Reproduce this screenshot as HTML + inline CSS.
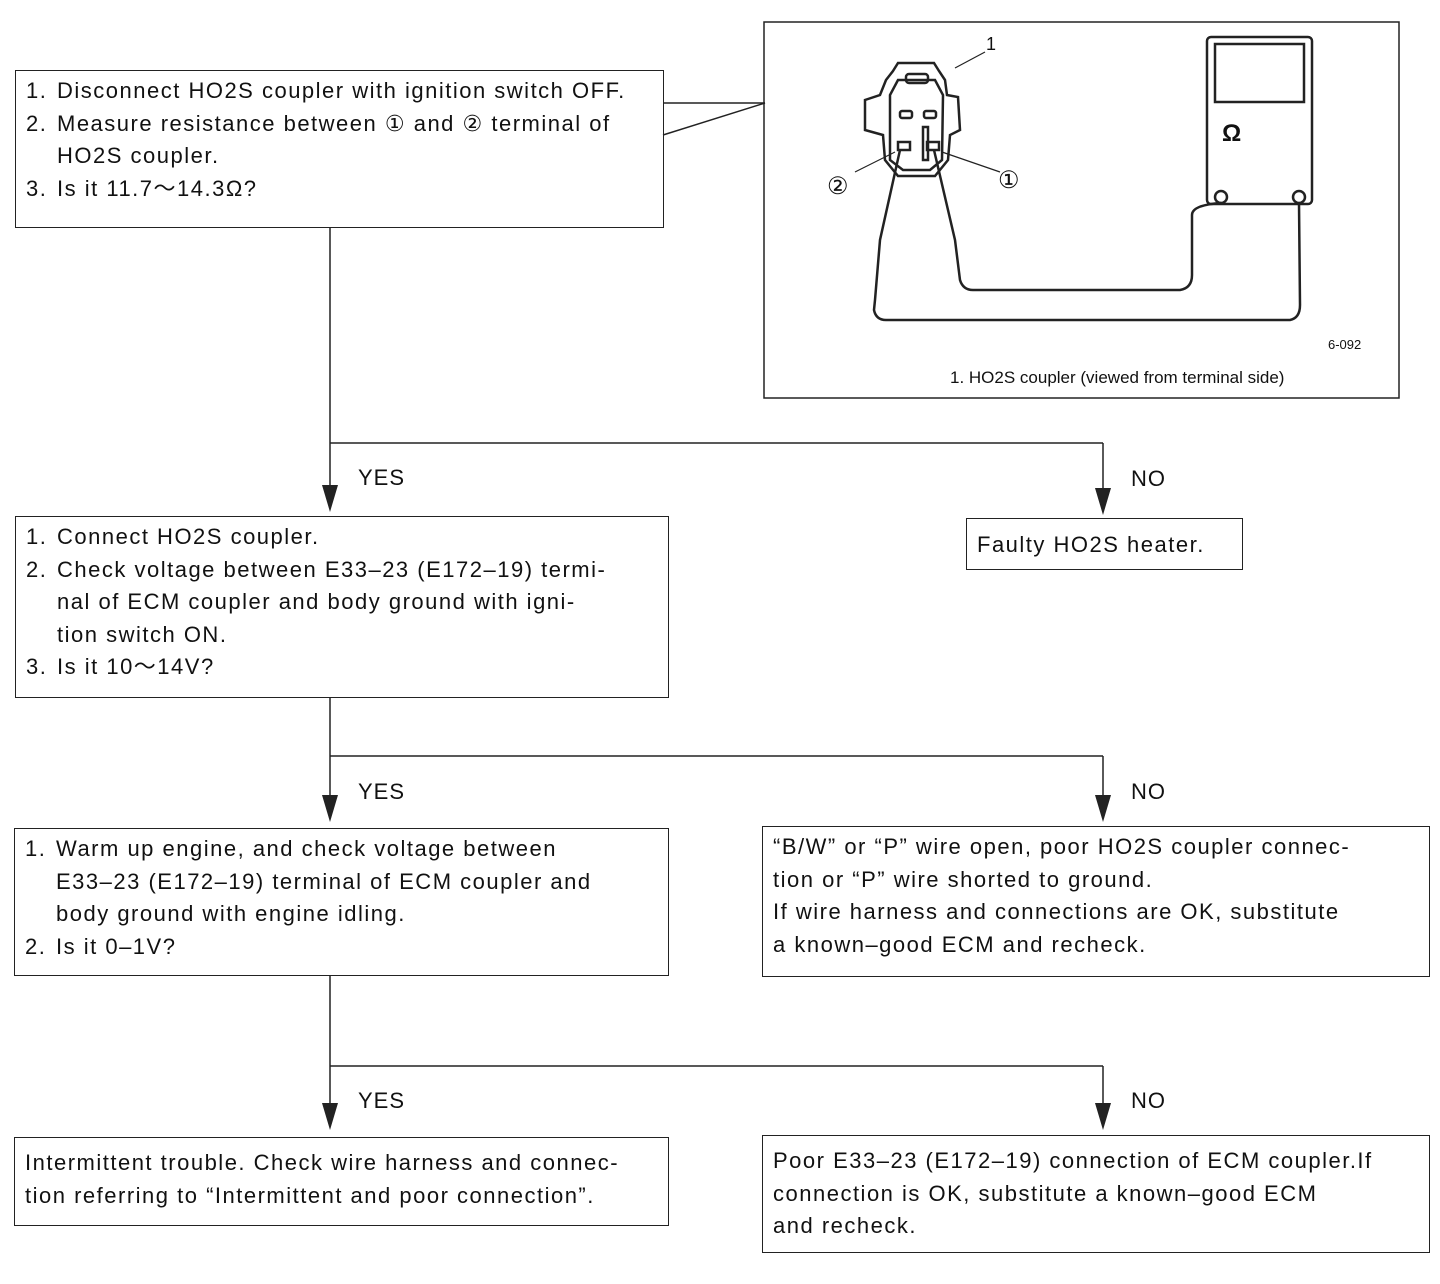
<!DOCTYPE html>
<html><head><meta charset="utf-8"><style>
body{margin:0;width:1440px;height:1284px;background:#fff;position:relative;overflow:hidden;font-family:"Liberation Sans","DejaVu Sans",sans-serif;color:#111}
.b{position:absolute;border:1.5px solid #222;box-sizing:border-box;font-size:22px;line-height:32.5px;padding:4px 10px;white-space:nowrap;letter-spacing:1.5px}
.t{position:absolute;font-size:22px;letter-spacing:1px}
.ind{padding-left:31px;text-indent:-31px}
.n{display:inline-block;width:31px;text-indent:0}
svg{position:absolute;left:0;top:0}
</style></head><body>
<svg width="1440" height="1284">
<g stroke="#222" stroke-width="1.5" fill="none">
<line x1="663" y1="103" x2="765" y2="103"/>
<line x1="663" y1="135" x2="765" y2="103"/>
<rect x="764" y="22" width="635" height="376"/>
<line x1="330" y1="227" x2="330" y2="500"/>
<line x1="330" y1="443" x2="1103" y2="443"/>
<line x1="1103" y1="443" x2="1103" y2="500"/>
<line x1="330" y1="697" x2="330" y2="805"/>
<line x1="330" y1="756" x2="1103" y2="756"/>
<line x1="1103" y1="756" x2="1103" y2="805"/>
<line x1="330" y1="975" x2="330" y2="1113"/>
<line x1="330" y1="1066" x2="1103" y2="1066"/>
<line x1="1103" y1="1066" x2="1103" y2="1113"/>
<g stroke-width="2.5">
<path d="M893 71 L898 63 L934 63 L939 71 L945 80 L947 95 L958 97 L960 130 L950 135 L948 160 L935 176 L898 176 L885 160 L883 135 L865 130 L865 100 L880 95 L886 80 Z"/>
<path d="M898 80 L935 80 L943 95 L942 160 L930 170 L903 170 L890 160 L890 95 Z"/>
<rect x="906" y="74" width="22" height="9" rx="3"/>
<rect x="900" y="111" width="12" height="7" rx="2"/>
<rect x="924" y="111" width="12" height="7" rx="2"/>
<rect x="923" y="127" width="5" height="33"/>
<rect x="898" y="142" width="12" height="8"/>
<rect x="927" y="142" width="12" height="8"/>
<rect x="1207" y="37" width="105" height="167" rx="4"/>
<rect x="1215" y="44" width="89" height="58"/>
<circle cx="1221" cy="197" r="6"/><circle cx="1299" cy="197" r="6"/>
<path d="M900 150 L880 240 L875 300 L874 310 Q876 320 886 320 L1290 320 Q1300 318 1300 305 L1299 203"/>
<path d="M934 150 L955 240 L960 280 Q963 290 973 290 L1180 290 Q1192 288 1192 275 L1192 215 Q1192 205 1221 203"/>
</g>
<line x1="955" y1="68" x2="985" y2="52" stroke-width="1.2"/>
<line x1="855" y1="172" x2="895" y2="152" stroke-width="1.2"/>
<line x1="942" y1="152" x2="1000" y2="172" stroke-width="1.2"/>
</g>
<g fill="#222">
<polygon points="322,485 338,485 330,512"/>
<polygon points="1095,488 1111,488 1103,515"/>
<polygon points="322,795 338,795 330,822"/>
<polygon points="1095,795 1111,795 1103,822"/>
<polygon points="322,1103 338,1103 330,1130"/>
<polygon points="1095,1103 1111,1103 1103,1130"/>
</g>
<g font-family="Liberation Sans,sans-serif" fill="#111">
<text x="986" y="50" font-size="18">1</text>
<text x="1222" y="141" font-size="24" font-weight="bold">Ω</text>
<text x="827" y="194" font-size="24">②</text>
<text x="998" y="188" font-size="24">①</text>
<text x="1328" y="349" font-size="13">6-092</text>
<text x="950" y="383" font-size="17">1.  HO2S coupler (viewed from terminal side)</text>
</g>
</svg>
<div class="b" style="left:15px;top:70px;width:649px;height:158px">
<div class="ind"><span class="n">1.</span>Disconnect HO2S coupler with ignition switch OFF.</div>
<div class="ind"><span class="n">2.</span>Measure resistance between ① and ② terminal of<br>HO2S coupler.</div>
<div class="ind"><span class="n">3.</span>Is it 11.7～14.3Ω?</div></div>
<div class="t" style="left:358px;top:465px">YES</div>
<div class="t" style="left:1131px;top:466px">NO</div>
<div class="b" style="left:15px;top:516px;width:654px;height:182px">
<div class="ind"><span class="n">1.</span>Connect HO2S coupler.</div>
<div class="ind"><span class="n">2.</span>Check voltage between E33–23 (E172–19) termi-<br>nal of ECM coupler and body ground with igni-<br>tion switch ON.</div>
<div class="ind"><span class="n">3.</span>Is it 10～14V?</div></div>
<div class="b" style="left:966px;top:518px;width:277px;height:52px;padding-top:10px">Faulty HO2S heater.</div>
<div class="t" style="left:358px;top:779px">YES</div>
<div class="t" style="left:1131px;top:779px">NO</div>
<div class="b" style="left:14px;top:828px;width:655px;height:148px">
<div class="ind"><span class="n">1.</span>Warm up engine, and check voltage between<br>E33–23 (E172–19) terminal of ECM coupler and<br>body ground with engine idling.</div>
<div class="ind"><span class="n">2.</span>Is it 0–1V?</div></div>
<div class="b" style="left:762px;top:826px;width:668px;height:151px">“B/W” or “P” wire open, poor HO2S coupler connec-<br>tion or “P” wire shorted to ground.<br>If wire harness and connections are OK, substitute<br>a known–good ECM and recheck.</div>
<div class="t" style="left:358px;top:1088px">YES</div>
<div class="t" style="left:1131px;top:1088px">NO</div>
<div class="b" style="left:14px;top:1137px;width:655px;height:89px;padding-top:9px">Intermittent trouble. Check wire harness and connec-<br>tion referring to “Intermittent and poor connection”.</div>
<div class="b" style="left:762px;top:1135px;width:668px;height:118px;padding-top:9px">Poor E33–23 (E172–19) connection of ECM coupler.If<br>connection is OK, substitute a known–good ECM<br>and recheck.</div>
</body></html>
